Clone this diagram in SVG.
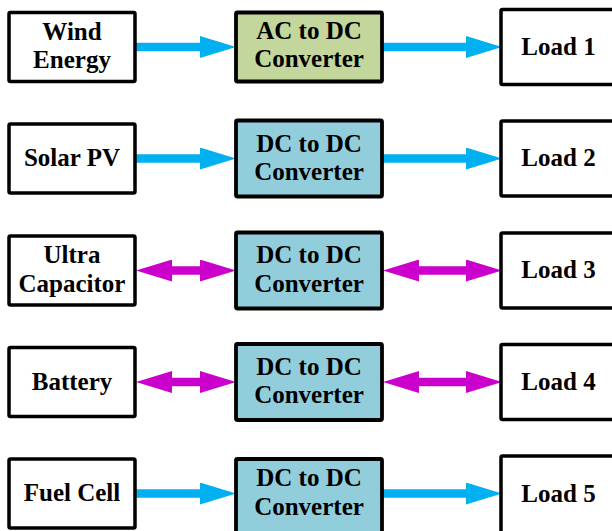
<svg xmlns="http://www.w3.org/2000/svg" width="612" height="531" viewBox="0 0 612 531">
<style>
.box{fill:#ffffff;stroke:#000000;stroke-width:3.5}
.conv-g{fill:#c3d69b;stroke:#000000;stroke-width:3.8}
.conv-b{fill:#92cddc;stroke:#000000;stroke-width:3.8}
.t{font-family:"Liberation Serif","Times New Roman",serif;font-weight:bold;font-size:25px;text-anchor:middle;fill:#000000}
.blue{stroke:#00b0f0;stroke-width:8.5;fill:none}
.mag{stroke:#cc00cc;stroke-width:8.5;fill:none}
</style>
<defs>
<marker id="ahb" markerUnits="userSpaceOnUse" markerWidth="36" markerHeight="22" viewBox="0 0 36 22" refX="1" refY="11" orient="auto-start-reverse"><path d="M0,0 L36,11 L0,22 z" fill="#00b0f0"/></marker>
<marker id="ahm" markerUnits="userSpaceOnUse" markerWidth="36" markerHeight="22" viewBox="0 0 36 22" refX="1" refY="11" orient="auto-start-reverse"><path d="M0,0 L36,11 L0,22 z" fill="#cc00cc"/></marker>
</defs>
<rect width="612" height="531" fill="#ffffff"/>

<g id="connectors">
<line class="blue" x1="135" y1="47" x2="201" y2="47" marker-end="url(#ahb)"/>
<line class="blue" x1="382" y1="47" x2="467" y2="47" marker-end="url(#ahb)"/>
<line class="blue" x1="135" y1="158.5" x2="201" y2="158.5" marker-end="url(#ahb)"/>
<line class="blue" x1="382" y1="158.5" x2="467" y2="158.5" marker-end="url(#ahb)"/>
<line class="mag" x1="171" y1="270.5" x2="201" y2="270.5" marker-start="url(#ahm)" marker-end="url(#ahm)"/>
<line class="mag" x1="418" y1="270.5" x2="467" y2="270.5" marker-start="url(#ahm)" marker-end="url(#ahm)"/>
<line class="mag" x1="171" y1="382" x2="201" y2="382" marker-start="url(#ahm)" marker-end="url(#ahm)"/>
<line class="mag" x1="418" y1="382" x2="467" y2="382" marker-start="url(#ahm)" marker-end="url(#ahm)"/>
<line class="blue" x1="135" y1="493.5" x2="201" y2="493.5" marker-end="url(#ahb)"/>
<line class="blue" x1="382" y1="493.5" x2="467" y2="493.5" marker-end="url(#ahb)"/>
</g>

<g id="wind-energy"><rect class="box" x="9" y="12.5" width="126" height="69" rx="1.5"/><text class="t" x="72" y="39.5">Wind</text><text class="t" x="72" y="68">Energy</text></g>
<g id="ac-dc-converter"><rect class="conv-g" x="236" y="12.5" width="146" height="69" rx="1.5"/><text class="t" x="309" y="39">AC to DC</text><text class="t" x="309" y="67">Converter</text></g>
<g id="load-1"><rect class="box" x="501" y="9.5" width="116" height="75" rx="1.5"/><text class="t" x="558.5" y="55">Load 1</text></g>

<g id="solar-pv"><rect class="box" x="9" y="124" width="126" height="69" rx="1.5"/><text class="t" x="72" y="166">Solar PV</text></g>
<g id="dc-dc-converter-2"><rect class="conv-b" x="236" y="120.5" width="146" height="76" rx="1.5"/><text class="t" x="309" y="151.5">DC to DC</text><text class="t" x="309" y="180">Converter</text></g>
<g id="load-2"><rect class="box" x="501" y="121" width="116" height="75" rx="1.5"/><text class="t" x="558.5" y="166">Load 2</text></g>

<g id="ultra-capacitor"><rect class="box" x="9" y="236" width="126" height="69" rx="1.5"/><text class="t" x="72" y="262.5">Ultra</text><text class="t" x="72" y="291.5">Capacitor</text></g>
<g id="dc-dc-converter-3"><rect class="conv-b" x="236" y="232.5" width="146" height="76" rx="1.5"/><text class="t" x="309" y="263">DC to DC</text><text class="t" x="309" y="292">Converter</text></g>
<g id="load-3"><rect class="box" x="501" y="233" width="116" height="75" rx="1.5"/><text class="t" x="558.5" y="278">Load 3</text></g>

<g id="battery"><rect class="box" x="9" y="347.5" width="126" height="69" rx="1.5"/><text class="t" x="72" y="389.5">Battery</text></g>
<g id="dc-dc-converter-4"><rect class="conv-b" x="236" y="344" width="146" height="76" rx="1.5"/><text class="t" x="309" y="374.5">DC to DC</text><text class="t" x="309" y="403">Converter</text></g>
<g id="load-4"><rect class="box" x="501" y="344.5" width="116" height="75" rx="1.5"/><text class="t" x="558.5" y="390">Load 4</text></g>

<g id="fuel-cell"><rect class="box" x="9" y="459" width="126" height="69" rx="1.5"/><text class="t" x="72" y="501">Fuel Cell</text></g>
<g id="dc-dc-converter-5"><rect class="conv-b" x="236" y="459" width="146" height="76" rx="1.5"/><text class="t" x="309" y="486">DC to DC</text><text class="t" x="309" y="514.5">Converter</text></g>
<g id="load-5"><rect class="box" x="501" y="456" width="116" height="78" rx="1.5"/><text class="t" x="558.5" y="502">Load 5</text></g>
</svg>
